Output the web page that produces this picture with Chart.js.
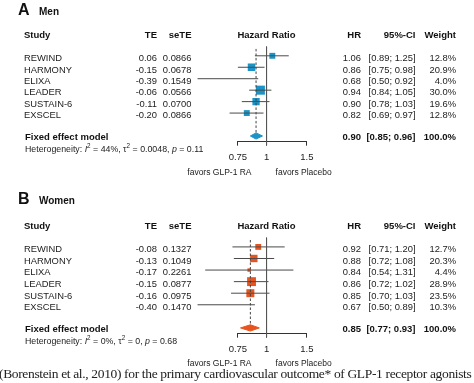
<!DOCTYPE html>
<html>
<head>
<meta charset="utf-8">
<script src="https://cdn.jsdelivr.net/npm/chart.js@4/dist/chart.umd.min.js"></script>
<style>
  html, body { margin: 0; padding: 0; background: #fff; }
  body { width: 474px; height: 383px; position: relative; overflow: hidden; }
  canvas { position: absolute; left: 0; }
  #cap { position: absolute; left: -1px; top: 366px; white-space: nowrap;
         font-family: "Liberation Serif", "DejaVu Serif", serif; font-size: 13.5px; color: #222; letter-spacing: -0.35px; }
</style>
</head>
<body>
<canvas id="men" width="474" height="191" style="top:0px"></canvas>
<canvas id="women" width="474" height="192" style="top:191px"></canvas>
<div id="cap">(Borenstein et al., 2010) for the primary cardiovascular outcome* of GLP-1 receptor agonists (</div>
<script>
// ---------- data ----------
const studies = ["REWIND", "HARMONY", "ELIXA", "LEADER", "SUSTAIN-6", "EXSCEL"];
const xTicks = [0.75, 1, 1.5];

const menTE    = ["0.06", "-0.15", "-0.39", "-0.06", "-0.11", "-0.20"];
const menSeTE  = ["0.0866", "0.0678", "0.1549", "0.0566", "0.0700", "0.0866"];
const menHR    = [1.06, 0.86, 0.68, 0.94, 0.90, 0.82];
const menLo    = [0.89, 0.75, 0.50, 0.84, 0.78, 0.69];
const menHi    = [1.25, 0.98, 0.92, 1.05, 1.03, 0.97];
const menW     = [12.8, 20.9, 4.0, 30.0, 19.6, 12.8];
const menFixed = [0.90, 0.85, 0.96];           // HR, lower, upper
const menHet   = ["44%", "0.0048", "0.11"];    // I2, tau2, p

const womenTE    = ["-0.08", "-0.13", "-0.17", "-0.15", "-0.16", "-0.40"];
const womenSeTE  = ["0.1327", "0.1049", "0.2261", "0.0877", "0.0975", "0.1470"];
const womenHR    = [0.92, 0.88, 0.84, 0.86, 0.85, 0.67];
const womenLo    = [0.71, 0.72, 0.54, 0.72, 0.70, 0.50];
const womenHi    = [1.20, 1.08, 1.31, 1.02, 1.03, 0.89];
const womenW     = [12.7, 20.3, 4.4, 28.9, 23.5, 10.3];
const womenFixed = [0.85, 0.77, 0.93];
const womenHet   = ["0%", "0", "0.68"];

// ---------- helpers ----------
const SANS = '"Liberation Sans", Arial, sans-serif';
const f2 = v => v.toFixed(2);

function runText(ctx, x, y, runs) {
  let cx = x;
  for (const [t, style, size, dy] of runs) {
    ctx.font = style + ' ' + size + 'px ' + SANS;
    ctx.fillText(t, cx, y + (dy || 0));
    cx += ctx.measureText(t).width;
  }
}

function buildPanel(id, letter, title, titleY, te, se, hr, lo, hi, w, fixed, het, color) {
  const FIX_ROW = 7;
  const datasets = [];
  // reference line at HR = 1
  datasets.push({ type: 'scatter', data: [{x: 1, y: -0.8}, {x: 1, y: 7.8}], showLine: true,
    borderColor: '#555', borderWidth: 1, pointRadius: 0, clip: false });
  // dashed line at fixed-effect estimate
  datasets.push({ type: 'scatter', data: [{x: fixed[0], y: -0.6}, {x: fixed[0], y: FIX_ROW - 0.3}], showLine: true,
    borderColor: '#444', borderWidth: 1, borderDash: [2.5, 2], pointRadius: 0, clip: false });
  // CI lines
  studies.forEach((s, i) => {
    datasets.push({ type: 'scatter', data: [{x: lo[i], y: i}, {x: hi[i], y: i}], showLine: true,
      borderColor: '#4a4a4a', borderWidth: 1, pointRadius: 0, clip: false });
  });
  // squares (area proportional to weight)
  datasets.push({ type: 'scatter', data: hr.map((v, i) => ({x: v, y: i})),
    pointStyle: 'rect', pointRadius: w.map(v => 1.65 * Math.sqrt(v) / Math.SQRT2),
    backgroundColor: color, borderWidth: 0, clip: false });
  // centre dots
  datasets.push({ type: 'scatter', data: hr.map((v, i) => ({x: v, y: i})),
    pointRadius: 0.9, backgroundColor: '#333', borderWidth: 0, clip: false });
  // diamond
  const dh = 0.27;
  datasets.push({ type: 'scatter', data: [
      {x: fixed[1], y: FIX_ROW}, {x: fixed[0], y: FIX_ROW - dh}, {x: fixed[2], y: FIX_ROW},
      {x: fixed[0], y: FIX_ROW + dh}, {x: fixed[1], y: FIX_ROW}],
    showLine: true, fill: 'shape', backgroundColor: color, borderColor: color, borderWidth: 1,
    pointRadius: 0, clip: false, tension: 0 });

  const textPlugin = {
    id: 'txt' + id,
    afterDraw(chart) {
      const ctx = chart.ctx;
      const ys = chart.scales.y;
      const rowY = i => ys.getPixelForValue(i);
      ctx.save();
      ctx.fillStyle = '#111';
      ctx.textBaseline = 'alphabetic';
      ctx.textAlign = 'left';
      ctx.font = 'bold 16px ' + SANS;
      ctx.fillText(letter, 18, titleY);
      ctx.font = 'bold 10px ' + SANS;
      ctx.fillText(title, 39, titleY);
      const hy = 37.5;
      ctx.font = 'bold 9.5px ' + SANS;
      ctx.fillText('Study', 24, hy);
      ctx.textAlign = 'right';
      ctx.fillText('TE', 157, hy);
      ctx.fillText('seTE', 191.5, hy);
      ctx.fillText('HR', 361, hy);
      ctx.fillText('95%-CI', 415.5, hy);
      ctx.fillText('Weight', 456, hy);
      ctx.textAlign = 'center';
      ctx.fillText('Hazard Ratio', 266.5, hy);
      ctx.font = '9.4px ' + SANS;
      ctx.fillStyle = '#222';
      studies.forEach((s, i) => {
        const y = rowY(i) + 5.3;
        ctx.textAlign = 'left';
        ctx.fillText(s, 24, y);
        ctx.textAlign = 'right';
        ctx.fillText(te[i], 157, y);
        ctx.fillText(se[i], 191.5, y);
        ctx.fillText(f2(hr[i]), 361, y);
        ctx.fillText('[' + f2(lo[i]) + '; ' + f2(hi[i]) + ']', 415.5, y);
        ctx.fillText(w[i].toFixed(1) + '%', 456, y);
      });
      const fy = rowY(FIX_ROW) + 4.5;
      ctx.fillStyle = '#111';
      ctx.font = 'bold 9.5px ' + SANS;
      ctx.textAlign = 'left';
      ctx.fillText('Fixed effect model', 25, fy);
      ctx.textAlign = 'right';
      ctx.fillText(f2(fixed[0]), 361, fy);
      ctx.fillText('[' + f2(fixed[1]) + '; ' + f2(fixed[2]) + ']', 415.5, fy);
      ctx.fillText('100.0%', 456, fy);
      ctx.textAlign = 'left';
      ctx.fillStyle = '#222';
      const hy2 = rowY(FIX_ROW) + 16;
      runText(ctx, 25, hy2, [
        ['Heterogeneity: ', '', 8.8], ['I', 'italic', 8.8], ['2', '', 6.3, -3.6],
        [' = ' + het[0] + ', ', '', 8.8], ['\u03C4', '', 8.8], ['2', '', 6.3, -3.6],
        [' = ' + het[1] + ', ', '', 8.8], ['p', 'italic', 8.8], [' = ' + het[2], '', 8.8]
      ]);
      const x1 = chart.scales.x.getPixelForValue(1);
      ctx.font = '8.5px ' + SANS;
      ctx.textAlign = 'right';
      ctx.fillText('favors GLP-1 RA', x1 - 15, 175);
      ctx.textAlign = 'left';
      ctx.fillText('favors Placebo', x1 + 9, 175);
      ctx.restore();
    }
  };

  return new Chart(document.getElementById(id), {
    type: 'scatter',
    data: { datasets },
    options: {
      responsive: false,
      animation: false,
      devicePixelRatio: 1,
      layout: { padding: { left: 237.9, right: 474 - 306.9, top: 44.35, bottom: 0 } },
      plugins: { legend: { display: false }, tooltip: { enabled: false } },
      scales: {
        x: {
          type: 'logarithmic', min: xTicks[0], max: xTicks[xTicks.length - 1], position: 'bottom',
          afterBuildTicks: s => { s.ticks = xTicks.map(v => ({ value: v })); },
          afterFit: s => { s.height = 191 - 141.7; },
          border: { display: true, color: '#333', width: 1 },
          grid: { drawOnChartArea: false, drawTicks: true, tickLength: 4, color: '#333', lineWidth: 1 },
          ticks: { autoSkip: false, maxRotation: 0, padding: 6, color: '#222',
                   font: { family: SANS, size: 9.5 },
                   callback: v => String(v) }
        },
        y: { type: 'linear', reverse: true, min: -1, max: 7.5, display: false }
      }
    },
    plugins: [textPlugin]
  });
}

buildPanel('men', 'A', 'Men', 15, menTE, menSeTE, menHR, menLo, menHi, menW, menFixed, menHet, '#1b93c6');
buildPanel('women', 'B', 'Women', 12.5, womenTE, womenSeTE, womenHR, womenLo, womenHi, womenW, womenFixed, womenHet, '#e8541f');
</script>
</body>
</html>
